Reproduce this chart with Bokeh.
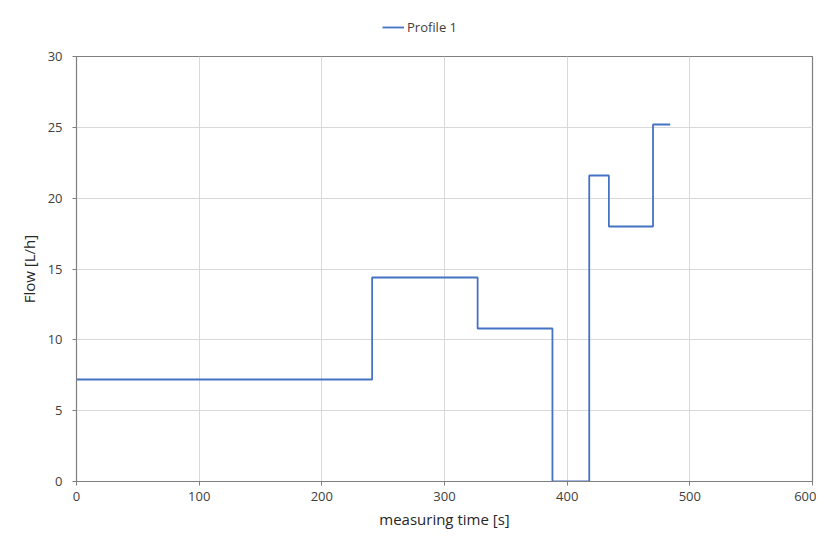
from bokeh.plotting import figure
from bokeh.models import Legend, LegendItem, FixedTicker
from bokeh.layouts import column
from bokeh.embed import file_html
from bokeh.resources import INLINE

# Data (step profile, value holds until next time point)
time_s = [0, 241, 327, 388, 418, 434, 470, 484]
flow_lh = [7.2, 14.4, 10.8, 0.0, 21.6, 18.0, 25.2, 25.2]
series_name = "Profile 1"
x_ticks = [0, 100, 200, 300, 400, 500, 600]
y_ticks = [0, 5, 10, 15, 20, 25, 30]

FONT = "Open Sans"
LINE_COLOR = "#4472C4"

p = figure(width=816, height=494,
           min_border_left=76, min_border_top=10, min_border_right=4, min_border_bottom=59,
           x_range=(0, 600), y_range=(0, 30),
           output_backend="svg", toolbar_location=None)

r = p.step(time_s, flow_lh, mode="after", line_color=LINE_COLOR, line_width=1.8)

p.outline_line_color = "#7f7f7f"
p.outline_line_width = 1.2

p.xaxis.ticker = FixedTicker(ticks=x_ticks)
p.yaxis.ticker = FixedTicker(ticks=y_ticks)
p.xgrid.grid_line_color = "#d9d9d9"
p.ygrid.grid_line_color = "#d9d9d9"
for ax in (p.xaxis, p.yaxis):
    ax.axis_line_color = "#7f7f7f"
    ax.major_tick_line_color = "#7f7f7f"
    ax.major_tick_in = 0
    ax.major_tick_out = 4
    ax.minor_tick_line_color = None
    ax.major_label_text_font = FONT
    ax.major_label_text_font_size = "13px"
    ax.major_label_text_color = "#404040"
    ax.axis_label_text_font = FONT
    ax.axis_label_text_font_size = "15px"
    ax.axis_label_text_font_style = "normal"
    ax.axis_label_text_color = "#262626"

p.xaxis.axis_label = "measuring time [s]"
p.yaxis.axis_label = "Flow [L/h]"
p.xaxis.major_label_standoff = 6
p.yaxis.major_label_standoff = 10
p.xaxis.axis_label_standoff = 5
p.yaxis.axis_label_standoff = 6

# Legend strip above the chart
lg = figure(width=816, height=46, x_range=(0, 1), y_range=(0, 1),
            min_border=0, output_backend="svg", toolbar_location=None)
lg.axis.visible = False
lg.grid.visible = False
lg.outline_line_color = None
proxy = lg.line(x=[2, 3], y=[2, 3], line_color=LINE_COLOR, line_width=1.8)
legend = Legend(items=[LegendItem(label=series_name, renderers=[proxy])],
                location=(306, 9), orientation="horizontal",
                label_text_font=FONT, label_text_font_size="13px",
                label_text_color="#404040",
                background_fill_alpha=0, border_line_color=None,
                glyph_width=22, label_standoff=3, padding=2, margin=0)
lg.add_layout(legend, "center")

layout = column(lg, p, spacing=0)
open("out.html", "w").write(file_html(layout, INLINE))
